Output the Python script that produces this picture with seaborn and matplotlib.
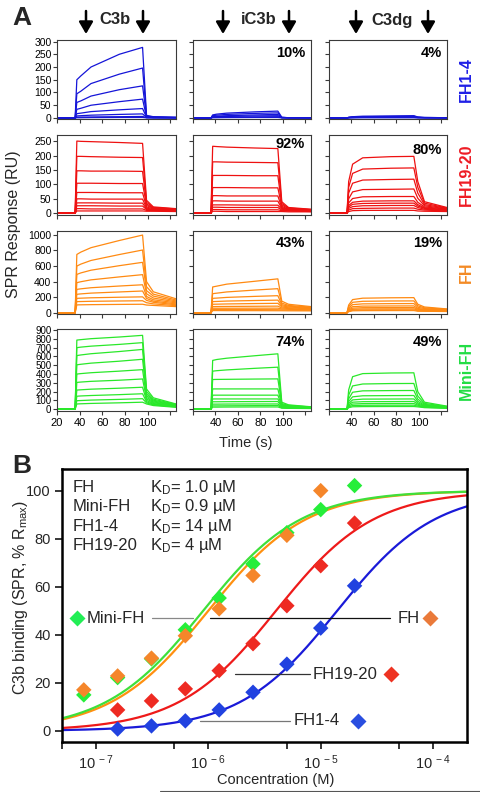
import numpy as np
import pandas as pd
import matplotlib
matplotlib.use("Agg")
import matplotlib.pyplot as plt
import seaborn as sns
from matplotlib.patches import FancyArrowPatch
from matplotlib.lines import Line2D
from matplotlib.ticker import FixedLocator, NullFormatter

sns.set_theme(style="ticks")
plt.rcParams["font.family"] = ["Liberation Sans", "DejaVu Sans"]
plt.rcParams["mathtext.fontset"] = "custom"
plt.rcParams["mathtext.rm"] = "Liberation Sans"
plt.rcParams["mathtext.it"] = "Liberation Sans:italic"
plt.rcParams["mathtext.bf"] = "Liberation Sans:bold"
plt.rcParams["mathtext.default"] = "regular"

# ---------------- Panel A data (SPR sensorgrams, RU read at time knots) -------------
TIME_KNOTS = [20, 36, 37.5, 41, 50, 75, 95.5, 99, 105, 125]
LIGANDS = ["C3b", "iC3b", "C3dg"]
ANALYTES = ["FH1-4", "FH19-20", "FH", "Mini-FH"]
PERCENTS = {("FH1-4", "iC3b"): "10%", ("FH1-4", "C3dg"): "4%",
            ("FH19-20", "iC3b"): "92%", ("FH19-20", "C3dg"): "80%",
            ("FH", "iC3b"): "43%", ("FH", "C3dg"): "19%",
            ("Mini-FH", "iC3b"): "74%", ("Mini-FH", "C3dg"): "49%"}

FH14_C3B = [
    [0, 0, 150, 165, 200, 250, 277, 10, 5, 3],
    [0, 0, 95, 105, 135, 172, 196, 8, 4, 2],
    [0, 0, 61, 67, 86, 111, 126, 6, 3, 2],
    [0, 0, 34, 38, 50, 64, 74, 4, 2, 1],
    [0, 0, 17, 19, 25, 32, 37, 3, 2, 1],
    [0, 0, 8, 9, 11, 14, 16, 2, 1, 1],
    [0, 0, 3, 3.5, 4, 5, 6, 1, 1, 0.5],
    [0, 0, 1, 1, 1.5, 2, 2, 0.5, 0.5, 0.5],
]
FH14_IC3B = [
    [0, 0, 12, 15, 19, 24, 27, 3, 1, 1],
    [0, 0, 9, 11, 14, 18, 20, 2, 1, 1],
    [0, 0, 6, 7, 9, 12, 14, 2, 1, 0.5],
    [0, 0, 4, 5, 6, 8, 9, 1, 1, 0.5],
    [0, 0, 2, 2.5, 3, 4, 5, 1, 0.5, 0.5],
    [0, 0, 1, 1, 1.5, 2, 2, 0.5, 0.5, 0],
]
FH14_C3DG = [
    [0, 0, 3, 5, 7, 8, 9, 4, 2, 1],
    [0, 0, 2, 4, 5, 6, 7, 3, 2, 1],
    [0, 0, 2, 3, 4, 5, 5, 2, 1, 1],
    [0, 0, 1, 2, 3, 3, 3, 2, 1, 0.5],
    [0, 0, 1, 1, 2, 2, 2, 1, 1, 0.5],
    [0, 0, 0.5, 1, 1, 1, 1, 0.5, 0.5, 0],
]
FH1920_C3B = [
    [0, 0, 250, 249, 248, 245, 242, 45, 22, 16],
    [0, 0, 197, 197, 196, 194, 193, 38, 20, 15],
    [0, 0, 147, 147, 146, 146, 145, 32, 18, 14],
    [0, 0, 104, 104, 104, 103, 103, 27, 17, 13],
    [0, 0, 72, 72, 72, 71, 71, 22, 15, 12],
    [0, 0, 50, 50, 49, 49, 49, 18, 13, 11],
    [0, 0, 36, 36, 36, 35, 35, 15, 12, 10],
    [0, 0, 26, 26, 26, 25, 25, 13, 11, 9],
    [0, 0, 16, 16, 15, 15, 15, 10, 9, 8],
    [0, 0, 8, 8, 8, 8, 8, 7, 7, 6],
]
FH1920_IC3B = [
    [0, 0, 232, 231, 229, 226, 224, 40, 20, 14],
    [0, 0, 178, 178, 177, 176, 175, 34, 18, 13],
    [0, 0, 131, 131, 131, 130, 130, 29, 16, 12],
    [0, 0, 89, 89, 89, 88, 88, 24, 14, 11],
    [0, 0, 61, 61, 60, 60, 60, 20, 13, 10],
    [0, 0, 43, 43, 42, 42, 42, 17, 12, 9],
    [0, 0, 29, 29, 29, 28, 28, 14, 10, 8],
    [0, 0, 21, 21, 20, 20, 20, 11, 9, 7],
    [0, 0, 13, 13, 12, 12, 12, 9, 8, 6],
    [0, 0, 7, 7, 6, 6, 6, 6, 5, 5],
]
FH1920_C3DG = [
    [0, 0, 110, 170, 192, 196, 197, 110, 40, 20],
    [0, 0, 90, 138, 153, 156, 157, 90, 35, 18],
    [0, 0, 70, 104, 115, 117, 118, 70, 30, 17],
    [0, 0, 50, 74, 82, 83, 84, 52, 26, 15],
    [0, 0, 36, 51, 57, 58, 58, 38, 22, 14],
    [0, 0, 27, 38, 42, 43, 43, 30, 19, 12],
    [0, 0, 22, 31, 34, 35, 35, 25, 17, 11],
    [0, 0, 17, 23, 26, 27, 27, 20, 14, 10],
    [0, 0, 11, 16, 17, 18, 18, 14, 11, 8],
    [0, 0, 6, 9, 10, 10, 10, 8, 7, 6],
]
FH_C3B = [
    [0, 0, 749, 779, 836, 928, 998, 400, 270, 180],
    [0, 0, 600, 625, 672, 748, 806, 335, 240, 165],
    [0, 0, 493, 512, 547, 605, 648, 285, 215, 152],
    [0, 0, 387, 399, 423, 461, 490, 245, 190, 140],
    [0, 0, 301, 308, 322, 344, 360, 210, 168, 128],
    [0, 0, 238, 243, 253, 268, 280, 185, 150, 115],
    [0, 0, 186, 188, 193, 200, 205, 160, 135, 103],
    [0, 0, 144, 145, 148, 152, 155, 130, 115, 92],
    [0, 0, 102, 103, 105, 108, 110, 100, 95, 80],
]
FH_IC3B = [
    [0, 0, 332, 342, 368, 405, 436, 150, 110, 80],
    [0, 0, 246, 252, 268, 292, 310, 125, 95, 72],
    [0, 0, 186, 189, 198, 211, 220, 105, 85, 65],
    [0, 0, 144, 146, 151, 158, 163, 90, 75, 58],
    [0, 0, 110, 111, 114, 119, 122, 75, 65, 52],
    [0, 0, 80, 81, 82, 84, 86, 62, 55, 45],
    [0, 0, 59, 59, 59, 60, 60, 50, 45, 38],
    [0, 0, 42, 42, 41, 41, 40, 38, 35, 32],
    [0, 0, 29, 29, 28, 28, 27, 27, 26, 25],
]
FH_C3DG = [
    [0, 0, 100, 170, 188, 193, 195, 110, 75, 50],
    [0, 0, 80, 135, 148, 152, 153, 90, 64, 45],
    [0, 0, 62, 105, 115, 118, 119, 72, 54, 40],
    [0, 0, 47, 79, 86, 88, 89, 56, 45, 35],
    [0, 0, 36, 60, 66, 67, 68, 45, 38, 30],
    [0, 0, 27, 45, 50, 51, 51, 35, 31, 25],
    [0, 0, 20, 34, 37, 38, 38, 27, 25, 21],
    [0, 0, 15, 26, 28, 29, 29, 21, 20, 17],
]
MINI_C3B = [
    [0, 0, 786, 791, 802, 821, 840, 230, 130, 60],
    [0, 0, 700, 706, 717, 737, 757, 200, 115, 55],
    [0, 0, 610, 617, 631, 656, 680, 175, 103, 50],
    [0, 0, 505, 511, 524, 546, 568, 155, 93, 46],
    [0, 0, 400, 405, 415, 433, 450, 135, 83, 42],
    [0, 0, 305, 309, 317, 330, 344, 118, 74, 38],
    [0, 0, 218, 221, 228, 239, 250, 100, 65, 34],
    [0, 0, 148, 151, 156, 166, 176, 85, 57, 30],
    [0, 0, 97, 99, 104, 112, 120, 72, 50, 26],
    [0, 0, 60, 62, 66, 73, 80, 60, 42, 22],
]
MINI_IC3B = [
    [0, 0, 555, 565, 580, 608, 630, 80, 50, 28],
    [0, 0, 433, 438, 447, 465, 478, 65, 44, 25],
    [0, 0, 338, 339, 340, 343, 345, 55, 38, 22],
    [0, 0, 231, 231, 231, 231, 231, 47, 33, 20],
    [0, 0, 160, 160, 160, 160, 160, 40, 29, 18],
    [0, 0, 117, 117, 117, 117, 117, 34, 25, 16],
    [0, 0, 85, 85, 86, 87, 88, 28, 21, 14],
    [0, 0, 58, 58, 59, 60, 60, 22, 17, 12],
    [0, 0, 38, 38, 39, 41, 42, 17, 13, 10],
    [0, 0, 24, 24, 25, 26, 26, 12, 10, 8],
]
MINI_C3DG = [
    [0, 0, 220, 370, 405, 412, 414, 200, 80, 35],
    [0, 0, 160, 265, 287, 292, 293, 150, 66, 31],
    [0, 0, 118, 193, 209, 212, 213, 115, 55, 28],
    [0, 0, 87, 141, 153, 155, 156, 90, 46, 25],
    [0, 0, 65, 106, 115, 116, 117, 72, 40, 22],
    [0, 0, 50, 80, 86, 87, 88, 58, 34, 19],
    [0, 0, 37, 59, 64, 65, 65, 46, 28, 16],
    [0, 0, 26, 42, 45, 46, 46, 36, 23, 13],
    [0, 0, 18, 28, 30, 31, 31, 27, 18, 10],
]
SPR = {
    ("FH1-4", "C3b"): FH14_C3B, ("FH1-4", "iC3b"): FH14_IC3B, ("FH1-4", "C3dg"): FH14_C3DG,
    ("FH19-20", "C3b"): FH1920_C3B, ("FH19-20", "iC3b"): FH1920_IC3B, ("FH19-20", "C3dg"): FH1920_C3DG,
    ("FH", "C3b"): FH_C3B, ("FH", "iC3b"): FH_IC3B, ("FH", "C3dg"): FH_C3DG,
    ("Mini-FH", "C3b"): MINI_C3B, ("Mini-FH", "iC3b"): MINI_IC3B, ("Mini-FH", "C3dg"): MINI_C3DG,
}
Y_TICKS = {"FH1-4": [0, 50, 100, 150, 200, 250, 300],
           "FH19-20": [0, 50, 100, 150, 200, 250],
           "FH": [0, 200, 400, 600, 800, 1000],
           "Mini-FH": [0, 100, 200, 300, 400, 500, 600, 700, 800, 900]}
X_TICKS = [20, 40, 60, 80, 100, 120]

# ---------------- Panel B data ----------------
CONC = [7.8125e-8, 1.5625e-7, 3.125e-7, 6.25e-7, 1.25e-6, 2.5e-6, 5e-6, 1e-5, 2e-5]
FH14_PTS = [0.8, 2.1, 4.2, 8.75, 16.1, 27.8, 42.8, 60.4]          # CONC[1:]
FH1920_PTS = [8.75, 12.5, 17.5, 25.1, 36.3, 52.1, 68.75, 86.5]    # CONC[1:]
MINI_PTS = [15, 22.2, 30, 42.1, 55.3, 69.5, 82.5, 92.1, 102.1]    # CONC
FH_PTS = [17.1, 22.9, 30.3, 39.6, 50.8, 64.7, 81.4, 100]          # CONC[:8]
KD_NAMES = ["FH", "Mini-FH", "FH1-4", "FH19-20"]
KD_UM = [1.0, 0.9, 14, 4]
KD_TEXT = ["1.0", "0.9", "14", "4"]

# ---------------- styling ----------------
W, H = 480, 792
LINE_COL = {"FH1-4": "#1515d8", "FH19-20": "#ee1111", "FH": "#ff8a12", "Mini-FH": "#2ae82a"}
LABEL_COL = {"FH1-4": "#1f1fe6", "FH19-20": "#ee1c24", "FH": "#f38a24", "Mini-FH": "#22dd44"}
COL_X = [(57, 176), (193, 311), (329, 447)]
ROW_Y = [(40, 119), (135, 215), (231, 314), (329, 411)]
YLIMS = {"FH1-4": (-4, 306), "FH19-20": (-6, 271), "FH": (-15, 1050), "Mini-FH": (-20, 912)}
PCT_POS = {"iC3b": 0.95, "C3dg": 0.96}
PCT_Y = {("FH1-4", "iC3b"): 0.84, ("FH1-4", "C3dg"): 0.84,
         ("FH19-20", "iC3b"): 0.885, ("FH19-20", "C3dg"): 0.81,
         ("FH", "iC3b"): 0.85, ("FH", "C3dg"): 0.85,
         ("Mini-FH", "iC3b"): 0.84, ("Mini-FH", "C3dg"): 0.84}

fig = plt.figure(figsize=(W / 100, H / 100), dpi=100)
fig.patch.set_facecolor("white")

def fx(px):
    return px / W

def fy(py):
    return 1 - py / H

for r, analyte in enumerate(ANALYTES):
    y0, y1 = ROW_Y[r]
    for c, lig in enumerate(LIGANDS):
        x0, x1 = COL_X[c]
        ax = fig.add_axes([fx(x0), fy(y1), (x1 - x0) / W, (y1 - y0) / H])
        rows = SPR[(analyte, lig)]
        recs = [(i, t, v) for i, row in enumerate(rows) for t, v in zip(TIME_KNOTS, row)]
        df = pd.DataFrame(recs, columns=["curve", "t", "v"])
        sns.lineplot(data=df, x="t", y="v", units="curve", estimator=None,
                     color=LINE_COL[analyte], lw=0.9, ax=ax, legend=False, sort=False)
        ax.set_xlim(20, 125)
        ax.set_ylim(*YLIMS[analyte])
        ax.set_yticks(Y_TICKS[analyte])
        ax.set_xticks(X_TICKS)
        ax.set_xlabel("")
        ax.set_ylabel("")
        for s in ax.spines.values():
            s.set_color("#3a3a3a")
            s.set_linewidth(0.8)
        ax.tick_params(direction="out", length=3, width=0.8, colors="#3a3a3a",
                       labelcolor="black", labelsize=7.5 if analyte != "Mini-FH" else 7, pad=1)
        if c == 0:
            ax.set_yticklabels([str(v) for v in Y_TICKS[analyte]])
        else:
            ax.tick_params(labelleft=False)
        if r == 3:
            labs = [str(v) if (v >= 40 or c == 0) and v < 120 else "" for v in X_TICKS]
            ax.set_xticklabels(labs, fontsize=8)
            ax.tick_params(axis="x", pad=2)
        else:
            ax.tick_params(labelbottom=False)
        key = (analyte, lig)
        if key in PERCENTS:
            ax.text(PCT_POS[lig], PCT_Y[key], PERCENTS[key], transform=ax.transAxes,
                    ha="right", va="center", fontsize=10.5, fontweight="bold", color="black")
    fig.text(fx(466), fy((y0 + y1) / 2), analyte, rotation=90, ha="center", va="center",
             fontsize=11.5, fontweight="bold", color=LABEL_COL[analyte])

# column headers with arrows
HEAD_X = {"C3b": (115, 86, 143), "iC3b": (259, 223, 289), "C3dg": (392, 356, 428)}
for lig in LIGANDS:
    cx, ax_l, ax_r = HEAD_X[lig]
    fig.text(fx(cx), fy(20), lig, ha="center", va="center", fontsize=12, fontweight="bold")
    for xa in (ax_l, ax_r):
        arr = FancyArrowPatch((fx(xa), fy(11)), (fx(xa), fy(34)), transform=fig.transFigure,
                              arrowstyle="-|>,head_length=0.6,head_width=0.35",
                              mutation_scale=12, lw=1.8, color="black",
                              shrinkA=0, shrinkB=0)
        fig.add_artist(arr)

fig.text(fx(22), fy(18), "A", ha="center", va="center", fontsize=19, fontweight="bold")
fig.text(fx(22), fy(466), "B", ha="center", va="center", fontsize=19, fontweight="bold")
fig.text(fx(14), fy(224), "SPR Response (RU)", rotation=90, ha="center", va="center", fontsize=11.5)
fig.text(fx(246), fy(443), "Time (s)", ha="center", va="center", fontsize=10.5)

# ---------------- Panel B ----------------
axb = fig.add_axes([fx(62), fy(742), 405 / W, 273 / H])
axb.set_xscale("log")
grid = np.logspace(np.log10(5e-8), np.log10(2e-4), 300)
FIT_COL = {"FH1-4": "#1a1ad8", "FH19-20": "#ee1a1a", "FH": "#ff9010", "Mini-FH": "#3ee03a"}
for name in ["FH1-4", "FH19-20", "FH", "Mini-FH"]:
    kd = KD_UM[KD_NAMES.index(name)] * 1e-6
    fit = pd.DataFrame({"c": grid, "y": 100 * grid / (grid + kd)})
    sns.lineplot(data=fit, x="c", y="y", color=FIT_COL[name], lw=1.6, ax=axb)

PT_COL = {"FH1-4": "#2142e0", "FH19-20": "#ee2a22", "FH": "#f5862a", "Mini-FH": "#26ee3a"}
pts = [("Mini-FH", CONC, MINI_PTS), ("FH", CONC[:8], FH_PTS),
       ("FH19-20", CONC[1:], FH1920_PTS), ("FH1-4", CONC[1:], FH14_PTS)]
for name, xs, ys in pts:
    sns.scatterplot(x=xs, y=ys, marker="D", s=62, color=PT_COL[name], edgecolor="none",
                    ax=axb, zorder=5, legend=False)

axb.set_xlim(5e-8, 2e-4)
axb.set_ylim(-4.6, 109)
axb.set_yticks([0, 20, 40, 60, 80, 100])
axb.xaxis.set_major_locator(FixedLocator([1e-7, 1e-6, 1e-5, 1e-4]))
axb.xaxis.set_minor_locator(FixedLocator([5e-8, 5e-7, 5e-6, 5e-5]))
axb.xaxis.set_minor_formatter(NullFormatter())
axb.set_xticklabels([r"$10^{\ -7}$", r"$10^{\ -6}$", r"$10^{\ -5}$", r"$10^{\ -4}$"])
for s in axb.spines.values():
    s.set_color("black")
    s.set_linewidth(1.8)
axb.tick_params(which="both", direction="out", length=5, width=1.3, labelsize=10.5, pad=3)
axb.set_xlabel("Concentration (M)", fontsize=10.5)
axb.set_ylabel("C3b binding (SPR, % R$_{max}$)", fontsize=11.5)
axb.xaxis.set_label_coords(0.528, -0.112)
axb.yaxis.set_label_coords(-0.079, 0.53)

# KD text
for i, name in enumerate(KD_NAMES):
    yy = [0.934, 0.863, 0.791, 0.720][i]
    axb.text(0.027, yy, name, transform=axb.transAxes, ha="left", va="center", fontsize=12)
    axb.text(0.217, yy, "K$_D$= " + KD_TEXT[i] + " \u00b5M", transform=axb.transAxes,
             ha="left", va="center", fontsize=12)

# pointer labels
def hline(x0, x1, y, col):
    axb.add_line(Line2D([x0, x1], [y, y], transform=axb.transAxes, color=col, lw=0.9))

def diamond(x, y, col):
    axb.plot([x], [y], marker="D", ms=8.5, color=col, mec="none", transform=axb.transAxes,
             clip_on=False, zorder=6)

diamond(0.037, 0.454, "#22ee55")
axb.text(0.060, 0.454, "Mini-FH", transform=axb.transAxes, ha="left", va="center", fontsize=12)
hline(0.222, 0.323, 0.454, "#888888")
hline(0.365, 0.810, 0.454, "#111111")
axb.text(0.884, 0.454, "FH", transform=axb.transAxes, ha="right", va="center", fontsize=12)
diamond(0.909, 0.454, "#ea7a3a")
hline(0.427, 0.612, 0.249, "#333333")
axb.text(0.620, 0.249, "FH19-20", transform=axb.transAxes, ha="left", va="center", fontsize=12)
diamond(0.812, 0.249, "#ee3322")
hline(0.341, 0.563, 0.077, "#777777")
axb.text(0.573, 0.077, "FH1-4", transform=axb.transAxes, ha="left", va="center", fontsize=12)
diamond(0.731, 0.077, "#2a4ee0")

fig.add_artist(Line2D([fx(160), 1.0], [fy(791), fy(791)], transform=fig.transFigure,
                      color="#555555", lw=0.8))

fig.savefig("out.png", dpi=100)
